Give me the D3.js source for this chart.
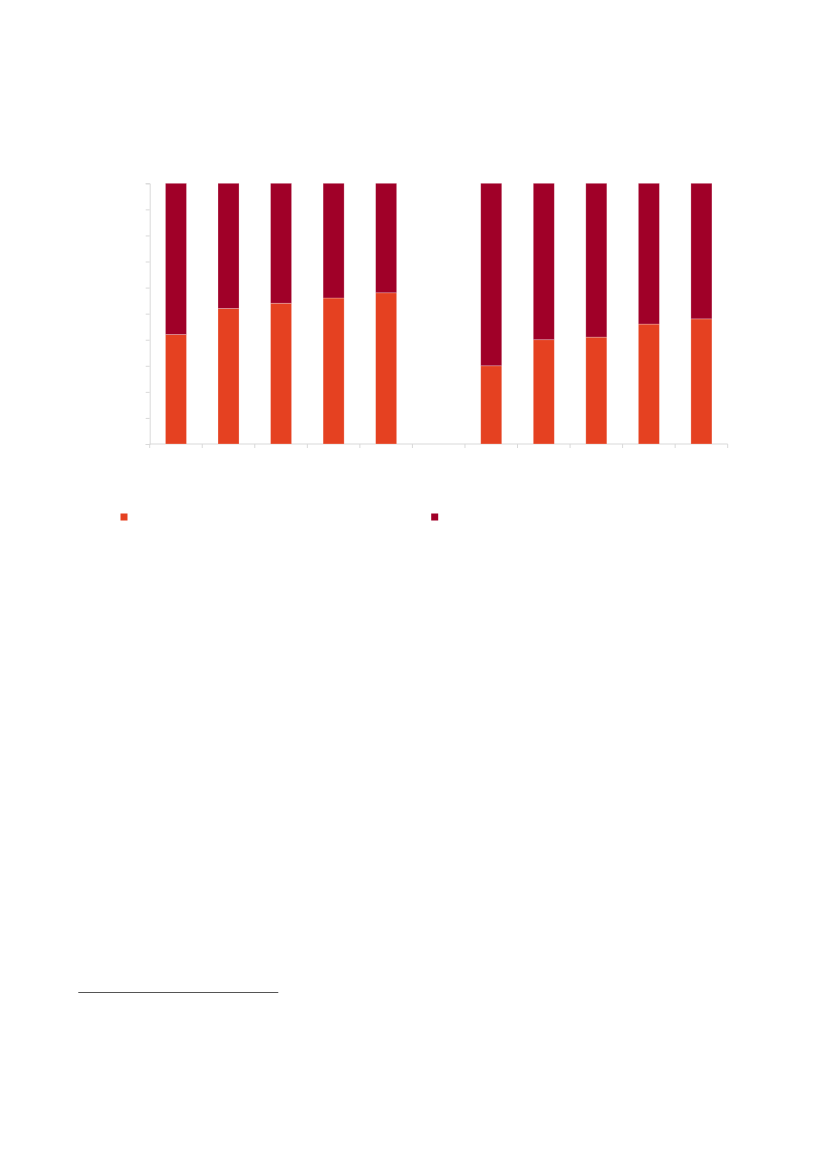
<!DOCTYPE html>
<html>
<head>
<meta charset="utf-8">
<script src="https://cdn.jsdelivr.net/npm/d3@7"></script>
<style>
  body { margin: 0; background: #fff; }
  svg { display: block; }
</style>
</head>
<body>
<div id="d3-container"></div>
<script>
// chart data (no labels are printed in it)
const categories = ["a1", "a2", "a3", "a4", "a5", "gap", "b1", "b2", "b3", "b4", "b5"];
const lowerShare = [42, 52, 54, 56, 58, null, 30, 40, 41, 46, 48];
const upperShare = [58, 48, 46, 44, 42, null, 70, 60, 59, 54, 52];
const yTicks = [0, 10, 20, 30, 40, 50, 60, 70, 80, 90, 100];
const seriesColors = ["#e54121", "#a00028"];

let margin = { top: 183.3, left: 149.7 },
  width = 578,
  height = 260.7;

let svg = d3.select('#d3-container')
  .append('svg')
  .attr('width', 827)
  .attr('height', 1169);

let g = svg.append('g')
  .attr('transform', `translate(${margin.left},${margin.top})`);

// X axis (bands, ticks between categories)
const x = d3.scaleBand()
  .domain(categories)
  .range([0, width])
  .paddingInner(0.6)
  .paddingOuter(0.3);

const y = d3.scaleLinear()
  .domain([0, 100])
  .range([height, 0]);

// Y axis
g.append("g")
  .call(d3.axisLeft(y).tickValues(yTicks).tickSize(4).tickFormat(""))
  .call(a => a.selectAll("line, path").attr("stroke", "#d9d9d9"));

// X axis line + boundary ticks
const xAxis = g.append("g").attr("transform", `translate(0,${height})`);
xAxis.append("line")
  .attr("x1", 0).attr("x2", width)
  .attr("stroke", "#d9d9d9");
xAxis.selectAll(".xt")
  .data(d3.range(categories.length + 1))
  .join("line")
  .attr("class", "xt")
  .attr("x1", i => i * x.step())
  .attr("x2", i => i * x.step())
  .attr("y1", 0).attr("y2", 4)
  .attr("stroke", "#d9d9d9");

// stacked bars
const rows = categories.map((c, i) => ({ cat: c, lower: lowerShare[i], upper: upperShare[i] }))
  .filter(d => d.lower != null);
const stack = d3.stack().keys(["lower", "upper"])(rows);

g.append("g")
  .selectAll("g")
  .data(stack)
  .join("g")
  .attr("fill", (d, i) => seriesColors[i])
  .selectAll("rect")
  .data(d => d)
  .join("rect")
  .attr("x", d => x(d.data.cat))
  .attr("y", d => y(d[1]))
  .attr("width", x.bandwidth())
  .attr("height", d => y(d[0]) - y(d[1]))
  .attr("stroke", "rgba(255,255,255,0.35)")
  .attr("stroke-width", 0.7);

// legend markers (no text in the reference)
const legendX = [124, 434.7];
svg.append("g")
  .selectAll("rect")
  .data(seriesColors)
  .join("rect")
  .attr("x", (d, i) => legendX[i] - 3.5)
  .attr("y", 513.5)
  .attr("width", 7)
  .attr("height", 7)
  .attr("fill", d => d);

// footnote separator
svg.append("line")
  .attr("x1", 78.3).attr("x2", 278.3)
  .attr("y1", 992.5).attr("y2", 992.5)
  .attr("stroke", "#555")
  .attr("stroke-width", 1);
</script>
</body>
</html>
